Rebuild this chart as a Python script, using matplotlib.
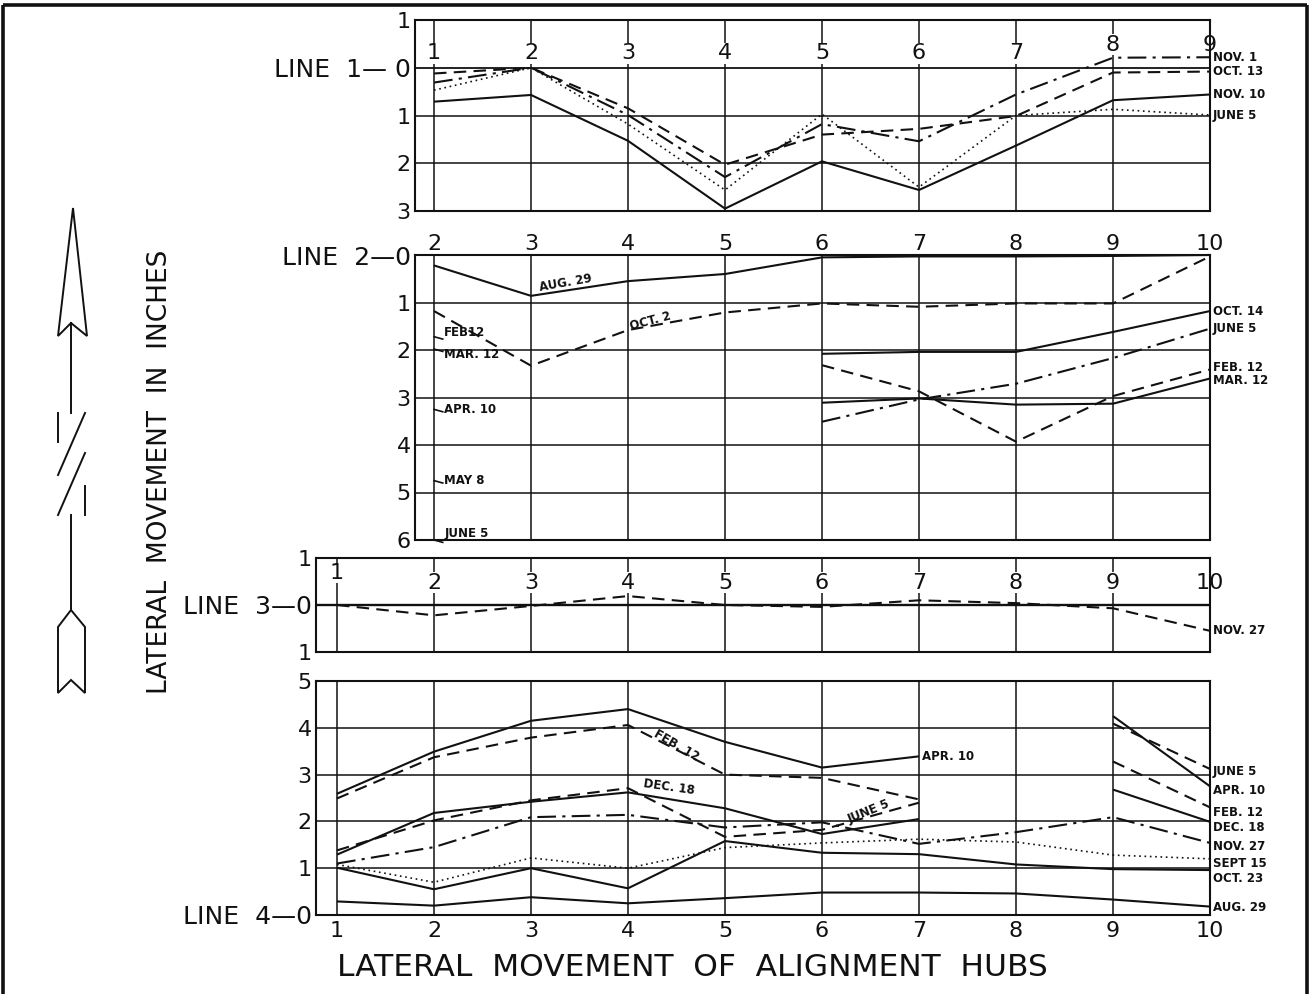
import matplotlib
matplotlib.use("Agg")
import matplotlib.pyplot as plt
from matplotlib.patches import Polygon

W, H = 1312, 994
INK = "#111111"

# ---- data (lateral movement in inches) ----
# Line 1, hubs 1..9 (positive = downward on the chart)
L1_HUBS = [1, 2, 3, 4, 5, 6, 7, 8, 9]
L1_NOV1 = [0.31, 0.0, 0.99, 2.29, 1.18, 1.54, 0.56, -0.21, -0.22]
L1_OCT13 = [0.12, 0.0, 0.85, 2.03, 1.40, 1.28, 1.01, 0.10, 0.08]
L1_NOV10 = [0.71, 0.57, 1.53, 2.95, 1.96, 2.56, 1.63, 0.68, 0.56]
L1_JUNE5 = [0.47, 0.0, 1.18, 2.56, 0.97, 2.50, 1.00, 0.87, 0.99]

# Line 2, hubs 2..10
L2_HUBS = [2, 3, 4, 5, 6, 7, 8, 9, 10]
L2_AUG29 = [0.22, 0.86, 0.55, 0.40, 0.05, 0.03, 0.03, 0.02, 0.0]
L2_OCT2 = [1.18, 2.33, 1.58, 1.21, 1.02, 1.09, 1.02, 1.02, 0.03]
L2_HUBS_B = [6, 7, 8, 9, 10]
L2_OCT14 = [2.08, 2.04, 2.04, 1.62, 1.18]
L2_JUNE5 = [3.51, 3.04, 2.71, 2.17, 1.55]
L2_FEB12 = [2.32, 2.87, 3.93, 2.97, 2.41]
L2_MAR12 = [3.11, 3.02, 3.15, 3.13, 2.60]
L2_START_DATES = ["FEB12", "MAR. 12", "APR. 10", "MAY 8", "JUNE 5"]
L2_START_VALUES = [1.72, 1.98, 3.25, 4.75, 6.0]

# Line 3, hubs 1..10
L3_HUBS = [1, 2, 3, 4, 5, 6, 7, 8, 9, 10]
L3_NOV27 = [0.0, 0.22, 0.02, -0.19, 0.0, 0.04, -0.10, -0.04, 0.07, 0.55]

# Line 4, hubs 1..10 (positive = upward)
L4_HUBS = [1, 2, 3, 4, 5, 6, 7, 8, 9, 10]
L4_NOV27 = [1.10, 1.45, 2.09, 2.14, 1.87, 1.98, 1.52, 1.77, 2.09, 1.54]
L4_SEPT15 = [1.08, 0.70, 1.22, 1.00, 1.44, 1.54, 1.62, 1.56, 1.28, 1.20]
L4_OCT23 = [1.01, 0.55, 1.00, 0.57, 1.58, 1.33, 1.30, 1.08, 0.98, 0.96]
L4_AUG29 = [0.29, 0.20, 0.38, 0.25, 0.36, 0.48, 0.48, 0.46, 0.33, 0.18]
L4_HUBS_A = [1, 2, 3, 4, 5, 6, 7]
L4_APR10_A = [2.59, 3.49, 4.15, 4.40, 3.70, 3.15, 3.39]
L4_FEB12_A = [2.49, 3.37, 3.79, 4.06, 3.00, 2.93, 2.47]
L4_JUNE5_A = [1.38, 2.02, 2.45, 2.71, 1.67, 1.82, 2.40]
L4_DEC18_A = [1.29, 2.18, 2.42, 2.62, 2.28, 1.73, 2.05]
L4_HUBS_B = [9, 10]
L4_APR10_B = [4.25, 2.75]
L4_JUNE5_B = [4.09, 3.12]
L4_FEB12_B = [3.28, 2.30]
L4_DEC18_B = [2.68, 1.99]

SOLID = "-"
DASHED = (0, (6, 3.5))
DASHDOT = (0, (9, 3, 1.5, 3))
DOTTED = (0, (1, 2.2))

LABEL_FONT = dict(fontsize=8.5, fontweight="bold", color=INK,
                  family=["Liberation Sans Narrow", "DejaVu Sans"])


def px_axes(fig, left, top, right, bottom):
    return fig.add_axes([left / W, 1 - bottom / H, (right - left) / W, (bottom - top) / H])


def make_panel(fig, rect, xlim, ylim, hubs, levels, ylabels):
    ax = px_axes(fig, *rect)
    ax.set_xlim(*xlim)
    ax.set_ylim(*ylim)
    for h in hubs:
        ax.axvline(h, color=INK, lw=1.1, zorder=1)
    for v in levels:
        ax.axhline(v, color=INK, lw=1.3 if v == 0 else 1.1, zorder=1)
    for s in ax.spines.values():
        s.set_linewidth(1.5)
        s.set_color(INK)
    ax.set_xticks([])
    ax.set_yticks(levels)
    ax.set_yticklabels(ylabels)
    ax.tick_params(length=0, labelsize=16, pad=3, colors=INK)
    # the "LINE n-0" label is lettered larger than the digits
    for lab in ax.get_yticklabels():
        if lab.get_text().startswith("LINE"):
            lab.set_fontsize(18)
    return ax


def draw(ax, x, y, ls, lw=1.5):
    ax.plot(x, y, color=INK, ls=ls, lw=lw, zorder=3, clip_on=False, solid_capstyle="butt")


def end_label(ax, x, y, text, dy=0):
    ax.annotate(text, (x, y), xytext=(2, -dy * 0.72), textcoords="offset points",
                ha="left", va="center", annotation_clip=False, **LABEL_FONT)


def main():
    plt.rcParams.update({"font.family": ["DejaVu Sans"]})
    fig = plt.figure(figsize=(W / 100, H / 100), dpi=100, facecolor="white")

    canvas = fig.add_axes([0, 0, 1, 1], zorder=0)
    canvas.set_xlim(0, W)
    canvas.set_ylim(H, 0)
    canvas.axis("off")

    # ---- Line 1 ----
    ax1 = make_panel(fig, (415, 20, 1210, 211), (0.804, 9), (3, -1), L1_HUBS,
                     [-1, 0, 1, 2, 3], ["1", "LINE  1— 0", "1", "2", "3"])
    for h in L1_HUBS:
        ax1.text(h, -0.3 if h < 8 else -0.48, str(h), ha="center", va="center", fontsize=16,
                 color=INK, zorder=2, bbox=dict(fc="white", ec="none", pad=0.3))
    draw(ax1, L1_HUBS, L1_NOV1, DASHDOT)
    draw(ax1, L1_HUBS, L1_OCT13, DASHED)
    draw(ax1, L1_HUBS, L1_NOV10, SOLID)
    draw(ax1, L1_HUBS, L1_JUNE5, DOTTED, lw=1.2)
    end_label(ax1, 9, L1_NOV1[-1], "NOV. 1")
    end_label(ax1, 9, L1_OCT13[-1], "OCT. 13")
    end_label(ax1, 9, L1_NOV10[-1], "NOV. 10")
    end_label(ax1, 9, L1_JUNE5[-1], "JUNE 5")

    # ---- Line 2 ----
    ax2 = make_panel(fig, (415, 255, 1210, 540), (1.804, 10), (6, 0), L2_HUBS,
                     [0, 1, 2, 3, 4, 5, 6], ["LINE  2—0", "1", "2", "3", "4", "5", "6"])
    ax2.xaxis.tick_top()
    ax2.set_xticks(L2_HUBS)
    ax2.set_xticklabels([str(h) for h in L2_HUBS])
    ax2.tick_params(axis="x", pad=1)
    draw(ax2, L2_HUBS, L2_AUG29, SOLID)
    draw(ax2, L2_HUBS, L2_OCT2, DASHED)
    draw(ax2, L2_HUBS_B, L2_OCT14, SOLID)
    draw(ax2, L2_HUBS_B, L2_JUNE5, DASHDOT)
    draw(ax2, L2_HUBS_B, L2_FEB12, DASHED)
    draw(ax2, L2_HUBS_B, L2_MAR12, SOLID)
    end_label(ax2, 10, L2_OCT14[-1], "OCT. 14")
    end_label(ax2, 10, L2_JUNE5[-1], "JUNE 5")
    end_label(ax2, 10, L2_FEB12[-1], "FEB. 12", dy=-2)
    end_label(ax2, 10, L2_MAR12[-1], "MAR. 12", dy=2)
    start_dy = [-4, 5, 0, 0, -7]
    for name, v, dy in zip(L2_START_DATES, L2_START_VALUES, start_dy):
        ax2.plot([2, 2.09], [v, v + 0.05], color=INK, lw=1.2, zorder=3, clip_on=False)
        ax2.annotate(name, (2.09, v), xytext=(1, -dy * 0.72), textcoords="offset points",
                     ha="left", va="center", **LABEL_FONT)
    ax2.text(3.36, 0.59, "AUG. 29", rotation=10, ha="center", va="center", **LABEL_FONT)
    ax2.text(4.23, 1.39, "OCT. 2", rotation=15, ha="center", va="center", **LABEL_FONT)

    # ---- Line 3 ----
    ax3 = make_panel(fig, (316, 558, 1210, 652), (0.784, 10), (1, -1), L3_HUBS,
                     [-1, 0, 1], ["1", "LINE  3—0", "1"])
    ax3.axhline(0, color=INK, lw=1.7, zorder=1)
    for h in L3_HUBS:
        ax3.text(h, -0.47 if h > 1 else -0.68, str(h), ha="center", va="center", fontsize=16,
                 color=INK, zorder=2, bbox=dict(fc="white", ec="none", pad=0.3))
    draw(ax3, L3_HUBS, L3_NOV27, DASHED)
    end_label(ax3, 10, L3_NOV27[-1], "NOV. 27")

    # ---- Line 4 ----
    ax4 = make_panel(fig, (316, 681, 1210, 915), (0.784, 10), (0, 5), L4_HUBS,
                     [0, 1, 2, 3, 4, 5], ["LINE  4—0", "1", "2", "3", "4", "5"])
    ax4.set_xticks(L4_HUBS)
    ax4.set_xticklabels([str(h) for h in L4_HUBS])
    ax4.tick_params(axis="x", pad=4)
    draw(ax4, L4_HUBS, L4_NOV27, DASHDOT)
    draw(ax4, L4_HUBS, L4_SEPT15, DOTTED, lw=1.2)
    draw(ax4, L4_HUBS, L4_OCT23, SOLID)
    draw(ax4, L4_HUBS, L4_AUG29, SOLID)
    draw(ax4, L4_HUBS_A, L4_APR10_A, SOLID)
    draw(ax4, L4_HUBS_A, L4_FEB12_A, DASHED)
    draw(ax4, L4_HUBS_A, L4_JUNE5_A, DASHED)
    draw(ax4, L4_HUBS_A, L4_DEC18_A, SOLID)
    draw(ax4, L4_HUBS_B, L4_APR10_B, SOLID)
    draw(ax4, L4_HUBS_B, L4_JUNE5_B, DASHED)
    draw(ax4, L4_HUBS_B, L4_FEB12_B, DASHED)
    draw(ax4, L4_HUBS_B, L4_DEC18_B, SOLID)
    end_label(ax4, 10, L4_JUNE5_B[-1], "JUNE 5", dy=3)
    end_label(ax4, 10, L4_APR10_B[-1], "APR. 10", dy=4)
    end_label(ax4, 10, L4_FEB12_B[-1], "FEB. 12", dy=5)
    end_label(ax4, 10, L4_DEC18_B[-1], "DEC. 18", dy=6)
    end_label(ax4, 10, L4_NOV27[-1], "NOV. 27", dy=4)
    end_label(ax4, 10, L4_SEPT15[-1], "SEPT 15", dy=5)
    end_label(ax4, 10, L4_OCT23[-1], "OCT. 23", dy=8)
    end_label(ax4, 10, L4_AUG29[-1], "AUG. 29", dy=1)
    end_label(ax4, L4_HUBS_A[-1], L4_APR10_A[-1], "APR. 10")
    ax4.text(4.5, 3.63, "FEB. 12", rotation=-30, ha="center", va="center", **LABEL_FONT)
    ax4.text(4.42, 2.74, "DEC. 18", rotation=-8, ha="center", va="center", **LABEL_FONT)
    ax4.text(6.48, 2.2, "JUNE 5", rotation=22, ha="center", va="center", **LABEL_FONT)

    # ---- titles ----
    canvas.text(692, 968, "LATERAL  MOVEMENT  OF  ALIGNMENT  HUBS", ha="center", va="center",
                fontsize=22.5, color=INK)
    canvas.text(160, 472, "LATERAL  MOVEMENT  IN  INCHES", rotation=90, ha="center",
                va="center", fontsize=19, color=INK)

    # ---- direction arrow with break ----
    kw = dict(color=INK, lw=1.4)
    canvas.add_patch(Polygon([(73, 208), (87, 336), (71, 323), (58, 336)], closed=True,
                             fill=False, ec=INK, lw=1.4))
    canvas.plot([71, 71], [323, 413], **kw)
    canvas.plot([58, 58], [413, 442], **kw)
    canvas.plot([58, 85], [475, 413], **kw)
    canvas.plot([58, 85], [515, 453], **kw)
    canvas.plot([85, 85], [486, 515], **kw)
    canvas.plot([71, 71], [515, 610], **kw)
    canvas.add_patch(Polygon([(71, 610), (85, 627), (85, 693), (71, 680), (58, 693), (58, 627)],
                             closed=True, fill=False, ec=INK, lw=1.4))

    # ---- outer border ----
    bkw = dict(color=INK, lw=2.6, solid_capstyle="butt")
    canvas.plot([3, 3], [5, H], **bkw)
    canvas.plot([3, 1307], [5, 5], **bkw)
    canvas.plot([1307, 1307], [5, H], **bkw)

    fig.savefig("out.png", dpi=100, facecolor="white")
    plt.close(fig)


if __name__ == "__main__":
    main()
